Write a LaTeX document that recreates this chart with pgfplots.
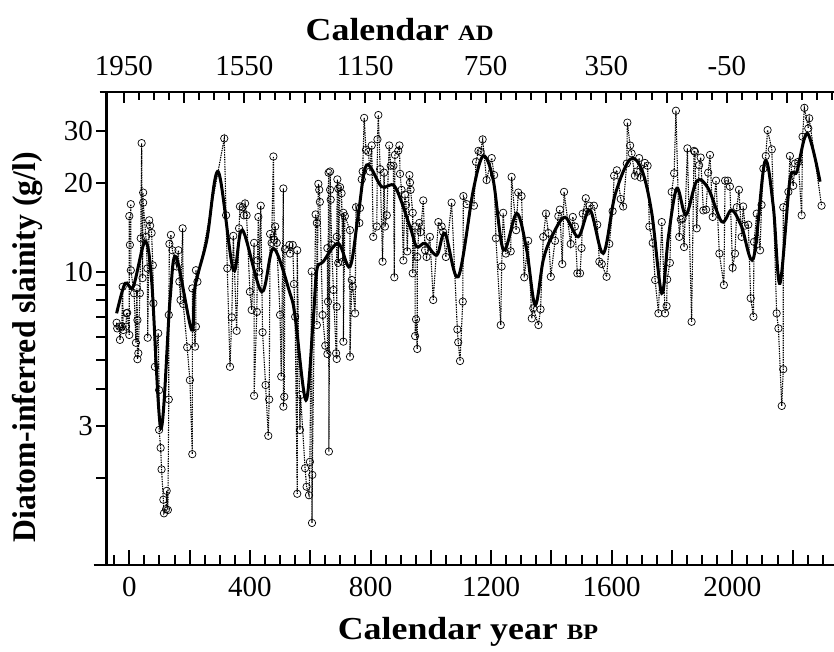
\documentclass[border=0pt]{standalone}
\usepackage{pgfplots}
\pgfplotsset{compat=1.18}
\usepackage{fontspec}
\setmainfont{Liberation Serif}
\newfontfamily\wideserif[FakeStretch=1.12]{Liberation Serif}
\newfontfamily\narrowserif[FakeStretch=0.96]{Liberation Serif}
\pgfplotsset{
  myframe/.style={
    scale only axis, width=727.5pt, height=473pt,
    xmin=-75.6, xmax=2337.3,
    /pgf/number format/assume math mode=true,
    ticklabel style={font=\fontsize{29}{32}\selectfont},
    axis line style={-},
  }
}
\pgfplotstableread{
yr v
-42 6.71
-40 6.42
-33 6.51
-31 5.87
-25 6.51
-22 8.88
-20 6.34
-11 6.51
-9 7.22
-7 7.25
0 6.10
0 15.4
2 12.3
5 16.9
5 10.1
16 8.44
22 5.74
25 8.77
27 6.85
27 5.05
30 5.29
35 8.44
38 12.95
41 27.2
44 9.5
46 18.5
46 17.1
55 13.1
60 10.25
61 5.97
66 14.9
69 14.3
74 13.5
78 10.5
80 7.81
85 4.76
96 6.18
99 3.97
99 2.91
104 2.53
107 2.14
113 1.69
115 1.52
122 1.57
124 1.81
128 1.56
131 3.69
131 7.13
133 12.4
138 13.3
143 11.8
157 10.4
163 11.8
166 9.24
170 8.01
177 14.0
179 7.76
192 5.54
201 4.29
209 2.41
209 8.77
218 5.57
221 6.51
221 10.1
226 9.24
315 28.2
321 15.5
325 10.25
334 4.76
340 7.0
345 13.2
356 6.30
364 14.0
367 16.6
376 16.5
380 15.5
384 17.0
389 15.5
400 8.54
406 7.41
414 12.5
414 3.80
423 7.3
425 10.9
428 15.3
431 10.0
436 16.7
442 6.23
452 4.13
461 2.78
464 3.69
467 13.4
472 12.5
478 24.5
481 12.8
484 14.2
489 12.5
500 7.13
504 4.41
511 19.1
511 3.49
514 3.77
516 11.9
531 12.3
533 11.5
542 12.3
546 9.07
550 7.03
557 1.77
557 11.8
566 2.91
568 3.82
583 2.16
588 1.87
596 1.75
599 2.27
605 10.0
606 1.41
607 2.05
618 15.6
622 14.6
622 6.59
627 19.8
630 18.9
632 17.2
641 7.13
650 5.61
657 5.26
657 12.0
659 7.91
661 21.6
662 2.46
666 18.9
666 21.8
668 17.5
671 12.3
677 8.66
686 5.29
688 5.06
688 7.6
688 13.1
690 20.5
693 19.1
693 10.7
699 19.3
704 18.4
708 10.8
710 15.8
710 5.79
715 15.4
732 13.8
732 5.15
738 9.36
741 8.88
749 7.22
752 16.5
763 14.6
765 16.4
771 20.5
774 21.8
779 33.1
785 25.8
793 25.4
798 21.8
804 26.7
809 13.1
821 14.2
823 28.0
826 33.85
832 22.2
840 10.8
845 21.6
848 14.2
854 15.5
862 26.7
867 22.8
876 22.8
879 9.56
881 24.8
892 25.6
896 26.7
898 21.4
903 18.9
909 10.9
914 18.2
918 16.8
922 11.7
929 21.2
931 20.0
933 18.9
940 15.8
940 9.86
948 14.2
948 6.05
951 6.89
955 5.47
955 11.2
962 14.6
966 13.6
975 17.4
981 11.8
986 11.2
997 13.1
1008 8.01
1025 14.7
1036 14.2
1041 13.6
1050 11.2
1069 17.1
1088 6.37
1091 5.76
1097 4.98
1106 7.91
1108 18.0
1119 16.9
1143 16.7
1150 23.5
1158 25.6
1165 25.4
1172 28.0
1185 20.4
1202 24.2
1210 21.2
1216 12.95
1232 6.59
1235 10.4
1240 15.8
1249 11.5
1265 11.7
1268 20.9
1283 13.8
1290 18.5
1301 18.0
1310 9.56
1323 12.7
1335 6.94
1340 7.51
1357 6.59
1364 7.45
1373 13.1
1382 15.7
1390 13.5
1398 9.6
1412 12.7
1423 15.4
1428 16.2
1436 10.6
1442 18.6
1464 12.4
1471 15.3
1478 14.2
1486 9.86
1495 9.86
1500 12.0
1504 15.7
1514 17.7
1517 15.9
1526 16.7
1541 16.7
1552 14.4
1559 10.8
1567 10.6
1583 9.6
1592 12.4
1603 16.0
1608 21.1
1617 22.0
1630 17.6
1638 16.6
1650 23.2
1652 31.9
1661 26.7
1666 25.1
1677 21.1
1683 21.8
1691 24.2
1696 20.8
1710 23.3
1719 22.8
1725 14.2
1736 12.5
1744 9.36
1755 7.22
1766 14.7
1777 7.22
1782 7.64
1784 9.4
1793 10.7
1799 18.6
1807 21.5
1813 35.0
1824 13.1
1829 15.0
1835 15.1
1840 12.1
1851 26.1
1865 6.76
1873 25.6
1876 25.4
1882 14.0
1890 22.9
1895 24.3
1904 16.1
1913 16.2
1920 21.6
1926 24.8
1935 15.3
1946 20.3
1957 11.5
1972 9.0
1976 20.3
1985 20.3
1992 19.4
2001 10.3
2009 11.5
2015 16.5
2022 18.9
2031 13.1
2036 16.6
2042 14.3
2053 14.4
2061 8.12
2070 7.03
2072 12.6
2081 15.7
2092 11.8
2097 16.8
2103 22.3
2111 24.6
2117 30.1
2131 25.9
2147 7.22
2153 6.42
2164 3.51
2169 4.67
2169 16.5
2186 18.6
2191 24.6
2202 19.5
2208 23.2
2219 23.5
2230 15.5
2233 28.6
2239 35.8
2252 30.5
2255 33.0
2296 16.7
}\rawdata
\pgfplotstableread{
yr v
-42 7.22
-14 9.12
13 8.88
52 12.61
74 9.36
105 2.95
135 8.01
155 11.22
207 6.34
218 8.88
257 12.78
295 21.76
345 10.12
375 13.82
439 8.54
478 11.98
533 8.44
550 7.03
586 3.67
610 6.85
622 10.12
643 10.79
693 12.46
732 10.38
760 15.74
787 22.93
837 19.36
881 19.36
931 14.18
953 12.13
981 12.46
1020 11.37
1047 13.47
1091 9.60
1141 18.87
1174 24.6
1207 20.4
1241 11.82
1285 15.74
1318 11.82
1346 7.70
1373 10.94
1401 13.11
1445 15.26
1489 13.11
1528 16.15
1572 11.52
1611 18.15
1661 23.98
1700 22.06
1733 15.74
1766 8.44
1788 13.11
1816 19.12
1846 15.53
1882 20.25
1920 19.12
1965 14.74
1998 16.15
2031 14.18
2070 11.08
2108 23.53
2136 16.57
2158 9.12
2191 20.4
2214 21.76
2249 29.36
2291 20.14
}\smoothdata
\begin{document}
\begin{tikzpicture}
\useasboundingbox (-106.5pt,-86pt) rectangle (727.5pt,565pt);
% main axis with y axis and data
\begin{axis}[myframe,
  ymode=log, ymin=1.016, ymax=40.5,
  axis x line=none, axis y line*=left,
  y axis line style={line width=2.5pt},
  ytick={2,3,4,5,6,7,8,9,10,20,30},
  yticklabels={,3,,,,,,,10,20,30},
  minor y tick num=0,
  tick align=outside, major tick length=10pt,
  y tick style={line width=2pt, black},
  ylabel={Diatom-inferred slainity (g/l)},
  ylabel style={font=\narrowserif\bfseries\fontsize{33}{36}\selectfont, at={(axis description cs:-0.109,0.46)}, anchor=center},
]
\addplot[black, line width=1.1pt, dash pattern=on 1.4pt off 1pt, mark=o, mark size=3.7pt,
  mark options={solid, fill=white, line width=0.7pt}] table[x=yr, y=v] {\rawdata};
\addplot[black, line width=3pt, smooth, tension=0.55] table[x=yr, y=v] {\smoothdata};
\end{axis}
% bottom x axis
\begin{axis}[myframe, ymin=0, ymax=1,
  axis y line=none, axis x line*=bottom,
  x axis line style={line width=2.5pt, shorten <=-13pt},
  tick align=inside,
  xtick={0,400,800,1200,1600,2000},
  xticklabels={0,400,800,1200,1600,2000},
  xticklabel style={yshift=-9pt},
  extra x ticks={200,600,1000,1400,1800,2200},
  extra x tick labels={},
  minor xtick={-50,0,...,2300},
  major tick length=15pt, minor tick length=10pt,
  x tick style={line width=2pt, black},
  xlabel={Calendar year {\fontsize{22}{24}\selectfont BP}},
  xlabel style={font=\wideserif\bfseries\fontsize{32}{36}\selectfont, at={(axis description cs:0.497,-0.1416)}, anchor=center},
]
\end{axis}
% top x axis
\begin{axis}[myframe, ymin=0, ymax=1,
  axis y line=none, axis x line*=top,
  x axis line style={line width=2.5pt, shorten <=-7pt},
  tick align=inside,
  xtick={-18,382,782,1182,1582,1982},
  xticklabels={1950,1550,1150,750,350,-50},
  xticklabel style={yshift=13pt},
  extra x ticks={182,582,982,1382,1782,2182},
  extra x tick labels={},
  minor xtick={32,82,...,2332},
  major tick length=11pt, minor tick length=8pt,
  x tick style={line width=2pt, black},
  xlabel={Calendar {\fontsize{22}{24}\selectfont AD}},
  xlabel style={font=\wideserif\bfseries\fontsize{32}{36}\selectfont, at={(axis description cs:0.403,1.131)}, anchor=center},
]
\end{axis}
\end{tikzpicture}
\end{document}
